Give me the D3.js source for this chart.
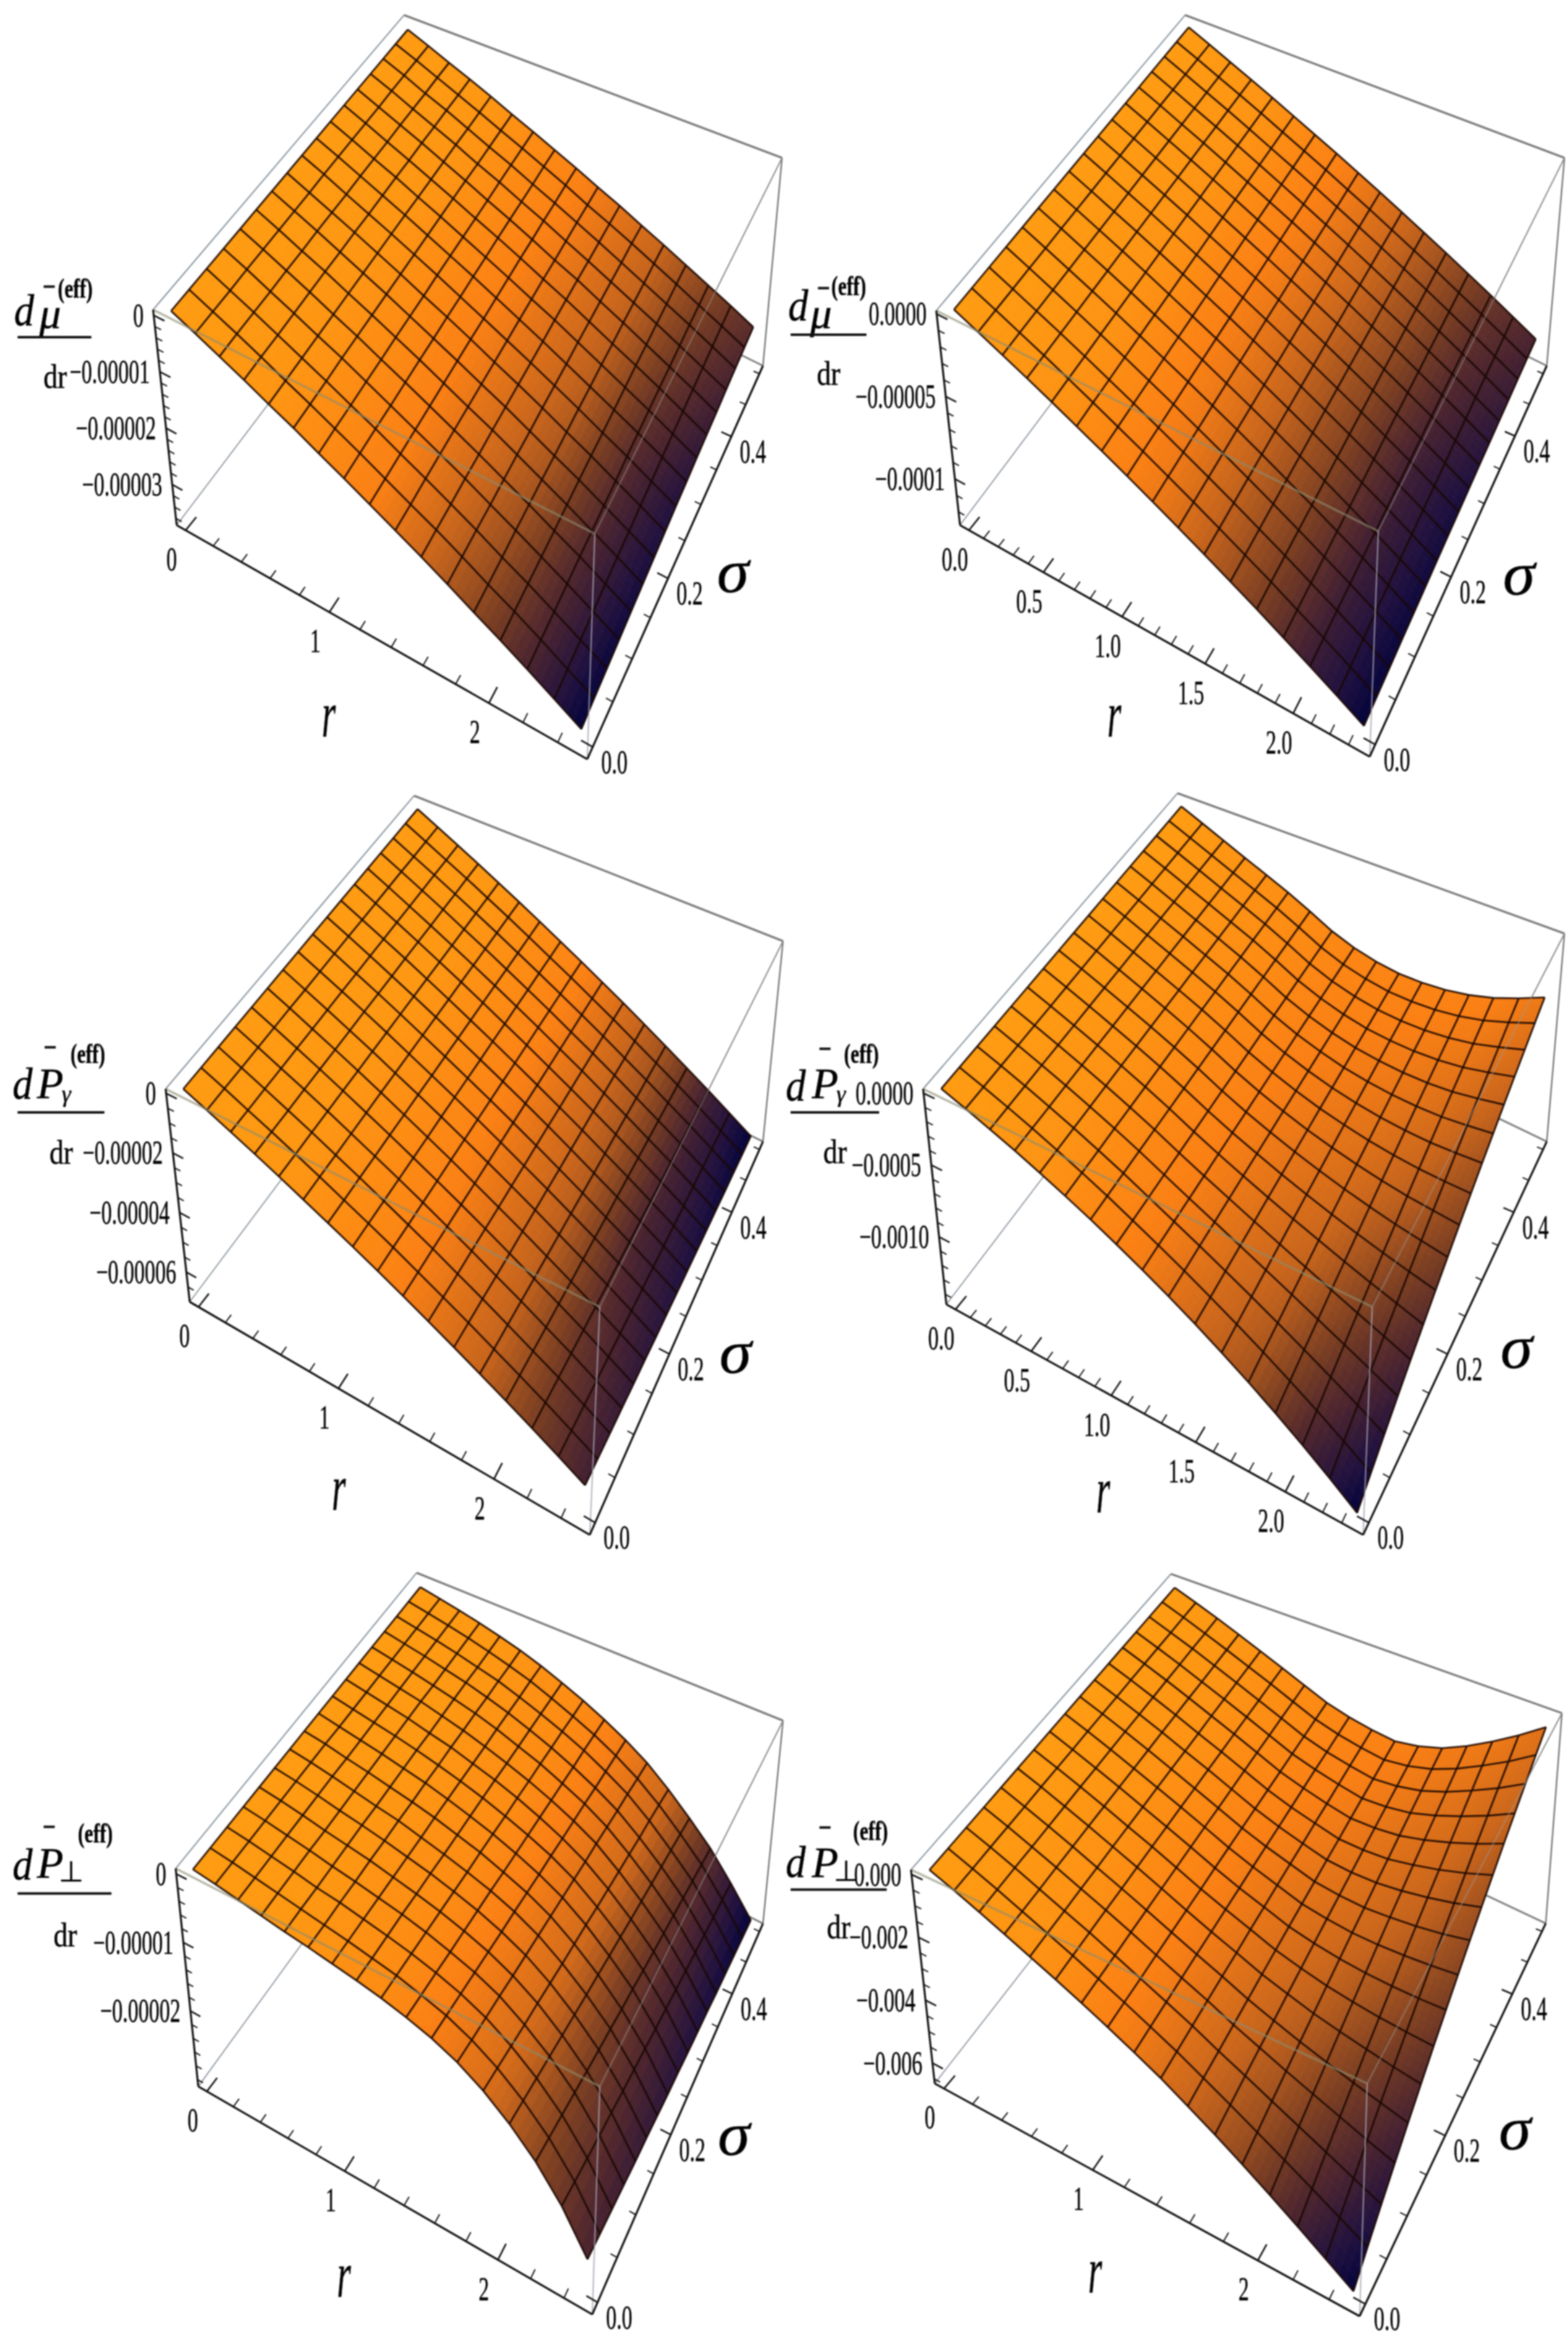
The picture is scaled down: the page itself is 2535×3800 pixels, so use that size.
<!DOCTYPE html>
<html><head><meta charset="utf-8"><title>Effective variable gradients</title>
<script src="https://cdn.jsdelivr.net/npm/d3@7/dist/d3.min.js"></script>
<style>html,body{margin:0;background:#fff}svg{display:block;filter:blur(1.1px)}text{font-family:"Liberation Serif",serif;fill:#000;stroke:#000;stroke-width:.5px}</style>
</head><body>
<script>
// Sampled surfaces: depth below zero (value = -cell * unit); rows = sigma nodes, columns = r nodes.
const muGridA=[
[0,19,39,59,80,100,122,143,165,187,209,232,256,279,303,328,353],
[0,19,38,58,79,99,120,141,163,185,206,229,253,275,299,324,348],
[0,19,38,58,78,98,119,139,161,182,204,226,250,272,296,320,344],
[0,18,38,57,77,96,117,138,159,180,201,224,246,269,292,316,340],
[0,18,37,56,76,95,116,136,157,178,199,221,243,266,288,312,336],
[0,18,37,55,75,94,114,134,155,176,196,218,240,262,285,308,332],
[0,18,36,55,74,93,113,133,153,174,194,216,238,259,282,305,328],
[0,18,36,54,73,92,112,131,151,172,192,213,235,256,279,301,324],
[0,17,36,54,72,91,110,130,150,170,190,211,232,254,275,298,320],
[0,17,35,53,71,90,109,128,148,168,188,209,230,251,272,294,317],
[0,17,35,52,71,89,108,127,146,166,185,206,227,248,269,291,313],
[0,17,35,52,70,88,107,125,144,164,183,204,225,245,266,288,310],
[0,17,34,51,69,87,106,124,143,163,181,202,222,243,264,285,307],
[0,16,34,51,68,87,104,123,141,161,180,200,220,240,261,282,303],
[0,16,34,50,68,86,103,122,140,159,178,198,218,238,258,279,300],
[0,16,33,50,67,85,102,120,138,158,176,195,215,235,256,276,297],
[0,16,33,49,66,84,101,119,137,156,174,194,213,233,253,273,294]];
const muGridB=[
[0,67,135,203,273,345,417,490,565,641,718,797,876,958,1040,1124,1210],
[0,66,134,201,271,342,414,486,561,636,713,791,869,951,1032,1116,1201],
[0,66,133,200,269,340,411,483,557,631,707,785,863,944,1025,1107,1192],
[0,65,132,199,267,337,408,479,553,627,702,779,857,937,1017,1099,1183],
[0,65,131,197,265,335,405,476,549,622,697,774,851,930,1010,1092,1175],
[0,64,130,196,263,333,402,472,545,618,692,769,845,924,1003,1084,1167],
[0,64,129,194,261,331,400,469,541,614,688,763,839,918,996,1077,1159],
[0,64,129,193,260,328,397,466,538,610,683,758,833,911,990,1070,1151],
[0,63,128,192,258,326,394,463,534,606,679,753,828,905,983,1063,1144],
[0,63,127,191,256,324,392,460,531,602,674,748,823,900,977,1056,1136],
[0,62,126,190,255,322,389,457,527,598,670,744,817,894,971,1049,1129],
[0,62,125,188,253,320,387,454,524,594,666,739,812,889,965,1043,1122],
[0,61,125,187,252,318,385,451,521,591,662,735,807,883,959,1037,1115],
[0,61,124,186,250,316,382,449,518,587,658,730,803,878,953,1030,1109],
[0,61,123,185,249,315,380,446,515,584,654,726,798,873,948,1025,1102],
[0,60,123,184,247,313,378,443,512,580,651,722,793,868,942,1019,1096],
[0,60,122,183,246,311,376,441,509,577,647,718,789,863,937,1013,1090]];
const prGridA=[
[0,33,67,101,136,172,208,244,281,319,358,397,437,477,518,560,603],
[0,33,68,102,137,173,210,246,283,322,361,400,441,481,522,565,608],
[0,34,68,103,138,175,211,248,286,324,364,403,444,485,526,569,613],
[0,34,69,103,139,176,213,250,288,327,366,407,447,489,530,574,617],
[0,34,69,104,140,177,214,252,290,329,369,410,451,492,534,578,622],
[0,34,70,105,141,178,216,254,292,332,372,412,454,496,538,582,626],
[0,35,70,106,142,180,217,255,294,334,374,415,457,499,542,586,631],
[0,35,70,106,143,181,219,257,296,336,377,418,460,502,545,590,635],
[0,35,71,107,144,182,220,259,298,338,379,421,463,506,549,594,639],
[0,35,71,108,145,183,222,261,300,340,381,423,466,509,552,597,643],
[0,36,72,108,146,184,223,262,302,343,384,426,469,512,556,601,647],
[0,36,72,109,147,185,224,264,304,345,386,428,471,515,559,605,651],
[0,36,73,110,148,186,225,265,305,347,388,431,474,518,562,608,654],
[0,36,73,110,149,187,227,267,307,349,390,433,477,521,565,611,658],
[0,37,73,111,149,188,228,268,309,350,392,436,479,524,568,615,661],
[0,37,74,111,150,189,229,270,310,352,394,438,482,526,571,618,665],
[0,37,74,112,151,190,230,271,312,354,396,440,484,529,574,621,668]];
const prGridB=[
[0,60,123,189,260,334,411,494,580,670,766,867,972,1083,1199,1321,1449],
[0,61,124,190,261,335,412,495,579,665,756,849,945,1046,1149,1257,1370],
[0,61,125,192,262,336,413,496,578,660,745,831,919,1009,1101,1195,1292],
[0,62,126,193,263,336,413,496,577,656,735,814,893,974,1054,1134,1217],
[0,62,127,194,264,337,414,497,576,651,726,798,869,939,1008,1075,1144],
[0,63,128,195,265,338,415,498,575,647,716,782,845,906,964,1018,1073],
[0,63,129,197,266,338,416,499,574,642,707,766,821,873,920,963,1004],
[0,64,130,198,267,339,416,499,573,638,698,751,799,841,879,909,937],
[0,64,131,199,268,340,417,500,572,634,690,736,776,810,837,856,872],
[0,65,132,200,269,340,418,501,571,630,681,721,755,780,797,805,808],
[0,65,133,201,270,341,418,501,570,626,673,708,734,751,759,755,746],
[0,66,134,202,271,341,419,502,569,622,665,694,713,722,721,706,686],
[0,66,135,203,272,342,420,503,568,619,657,680,693,695,684,658,626],
[0,67,136,204,273,342,420,503,567,615,650,667,674,667,648,612,569],
[0,67,136,205,273,343,421,504,567,612,642,655,655,641,613,567,514],
[0,68,137,206,274,343,421,504,566,608,635,642,636,615,578,523,458],
[0,68,138,207,275,344,422,505,565,605,628,630,618,590,545,480,405]];
const ppGridA=[
[0,5,11,17,23,28,34,40,47,56,67,82,103,130,163,205,259],
[0,5,11,17,23,29,35,42,49,59,70,86,107,134,167,209,262],
[0,5,11,17,24,29,36,43,51,61,73,89,111,138,171,213,265],
[0,5,11,17,24,30,37,44,53,64,76,92,115,142,175,217,268],
[0,5,11,18,24,30,38,46,55,66,79,96,118,146,179,220,271],
[0,5,11,18,24,31,39,47,57,68,82,99,122,150,183,224,273],
[0,5,11,18,25,31,40,49,59,70,84,102,126,154,186,227,276],
[0,5,12,18,25,32,40,50,60,73,87,105,129,157,190,230,279],
[0,6,12,18,25,32,41,51,62,75,90,108,132,161,193,234,281],
[0,6,12,18,25,33,42,52,64,77,92,111,136,164,197,237,284],
[0,6,12,18,26,33,43,53,65,79,95,114,139,168,200,240,286],
[0,6,12,18,26,34,44,55,67,81,97,116,142,171,203,243,288],
[0,6,12,19,26,34,44,56,68,83,99,119,145,174,206,246,291],
[0,6,12,19,26,35,45,57,70,85,102,122,148,177,209,249,293],
[0,6,12,19,27,35,46,58,71,86,104,124,150,180,212,252,295],
[0,6,12,19,27,36,46,59,73,88,106,127,153,183,215,254,297],
[0,6,12,19,27,36,47,60,74,90,108,129,156,186,218,257,299]];
const ppGridB=[
[0,30,62,95,129,162,197,233,271,310,354,399,446,495,545,596,647],
[0,30,61,94,127,160,195,230,267,304,345,386,428,470,513,556,599],
[0,29,60,93,126,158,193,228,263,298,337,373,410,446,482,518,553],
[0,29,60,91,124,156,190,225,259,292,329,361,393,423,452,481,508],
[0,29,59,90,123,155,188,222,255,287,321,349,376,400,423,444,464],
[0,28,58,89,121,153,186,220,252,282,313,337,360,378,394,409,421],
[0,28,57,88,120,151,184,218,248,276,305,326,344,357,367,374,379],
[0,28,57,87,119,150,182,215,245,271,298,315,328,336,340,341,339],
[0,27,56,86,117,148,180,213,241,266,291,304,313,315,313,308,300],
[0,27,55,85,116,147,179,211,238,261,284,294,299,295,288,277,261],
[0,27,55,84,115,145,177,209,235,257,277,284,284,276,263,246,224],
[0,26,54,83,114,144,175,207,232,252,271,274,271,257,239,216,188],
[0,26,53,82,112,142,173,205,228,248,264,264,257,239,215,186,152],
[0,26,53,82,111,141,172,203,225,243,258,255,244,221,192,158,118],
[0,26,52,81,110,140,170,201,223,239,252,246,231,204,169,130,84],
[0,25,52,80,109,138,169,199,220,235,246,237,218,187,147,103,51],
[0,25,51,79,108,137,167,197,217,231,240,228,206,170,126,76,19]];

// Axis ticks and labels
const rTicksWhole=[0,1,2], rTicksHalf=[0,0.5,1,1.5,2];
const sigmaTicks=[0,0.2,0.4];
const muZTicksA=[0,-0.00001,-0.00002,-0.00003], muZTicksB=[0,-0.00005,-0.0001];
const prZTicksA=[0,-0.00002,-0.00004,-0.00006], prZTicksB=[0,-0.0005,-0.001];
const ppZTicksA=[0,-0.00001,-0.00002], ppZTicksB=[0,-0.002,-0.004,-0.006];
const muZLabelsB=["0.0000","\u22120.00005","\u22120.0001"];
const prZLabelsB=["0.0000","\u22120.0005","\u22120.0010"];
const ppZLabelsB=["0.000","\u22120.002","\u22120.004","\u22120.006"];
const muZLabelsA=["0","\u22120.00001","\u22120.00002","\u22120.00003"];
const prZLabelsA=["0","\u22120.00002","\u22120.00004","\u22120.00006"];
const ppZLabelsA=["0","\u22120.00001","\u22120.00002"];
const rLabelsWhole=["0","1","2"], rLabelsHalf=["0.0","0.5","1.0","1.5","2.0"];
const sigmaLabels=["0.0","0.2","0.4"];

// Lighting along r for sigma = 0, mid, max (style only)
const shadeBreaks=[0,.25,.5,.75,.875,1];
const rampStops=[0,.25,.45,.65,.8,.92,1];
const rampColors=["#ff9c12","#fb8014","#c8651c","#7c3f22","#4a2430","#22123f","#04043c"];
const ramp=d3.scaleLinear(rampStops,rampColors).clamp(true);

const k1=[1270/1565,1270/1568], k2=[1265/1547,1270/1568], k3=[1265/1547,1260/1568];
const panels=[
{grid:muGridA,unit:1e-7,rMax:2.5,rTicks:rTicksWhole,rLabels:rLabelsWhole,rMinor:.2,zTicks:muZTicksA,zLabels:muZLabelsA,zMinor:2e-6,zDomain:[1e-6,-3.72e-5],
 origin:[0,0],k:k1,A:[305,618],B:[1185,1065],C:[1558,315],D:[805,30],a:[352,1048],b:[1170,1515],c:[1520,730],d:[845,395],
 shade:[[0,.06,.25,.6,.8,1],[0,.06,.25,.5,.75,.92],[0,.05,.22,.45,.62,.75]],
 kind:"mu",dAt:[48,620],sym:[100,625],bar:[98,572],eff:[150,575],rule:[35,182,673],dr:[110,752],rAt:[655,1425],sAt:[1460,1140]},
{grid:muGridB,unit:1e-7,rMax:2.35,rTicks:rTicksHalf,rLabels:rLabelsHalf,rMinor:.1,zTicks:muZTicksB,zLabels:muZLabelsB,zMinor:1e-5,zDomain:[2e-6,-1.28e-4],
 origin:[1270,0],k:k2,A:[298,620],B:[1172,1060],C:[1540,315],D:[790,30],a:[345,1048],b:[1155,1510],c:[1505,730],d:[830,395],
 shade:[[0,.08,.3,.65,.85,1],[0,.08,.32,.62,.82,.95],[0,.08,.28,.55,.7,.8]],
 kind:"mu",dAt:[25,610],sym:[70,625],bar:[75,575],eff:[125,570],rule:[10,160,668],dr:[85,745],rAt:[650,1425],sAt:[1450,1145]},
{grid:prGridA,unit:1e-7,rMax:2.5,rTicks:rTicksWhole,rLabels:rLabelsWhole,rMinor:.2,zTicks:prZTicksA,zLabels:prZLabelsA,zMinor:5e-6,zDomain:[1.5e-6,-7e-5],
 origin:[0,1270],k:k1,A:[330,605],B:[1195,1040],C:[1560,310],D:[825,20],a:[378,1030],b:[1175,1495],c:[1520,710],d:[860,385],
 shade:[[0,.05,.2,.45,.65,.82],[0,.05,.22,.5,.78,.92],[0,.05,.22,.55,.82,1]],
 kind:"pr",dAt:[45,595],sym:[100,595],bar:[100,522],eff:[175,535],rule:[35,208,652],dr:[122,732],rAt:[675,1400],sAt:[1465,1130]},
{grid:prGridB,unit:1e-6,rMax:2.35,rTicks:rTicksHalf,rLabels:rLabelsHalf,rMinor:.1,zTicks:prZTicksB,zLabels:prZLabelsB,zMinor:1e-4,zDomain:[3e-5,-1.47e-3],
 origin:[1270,1270],k:k2,A:[272,605],B:[1160,1040],C:[1540,295],D:[775,15],a:[318,1035],b:[1142,1495],c:[1505,710],d:[815,375],
 shade:[[0,.08,.28,.55,.8,1],[0,.1,.25,.38,.48,.62],[0,.1,.2,.22,.24,.3]],
 kind:"pr",dAt:[20,598],sym:[78,595],bar:[78,525],eff:[150,535],rule:[10,185,652],dr:[98,730],rAt:[628,1405],sAt:[1445,1120]},
{grid:ppGridA,unit:1e-7,rMax:2.5,rTicks:rTicksWhole,rLabels:rLabelsWhole,rMinor:.2,zTicks:ppZTicksA,zLabels:ppZLabelsA,zMinor:2e-6,zDomain:[8e-7,-3.1e-5],
 origin:[0,2530],k:k1,A:[350,605],B:[1195,1040],C:[1560,310],D:[830,15],a:[395,1040],b:[1180,1495],c:[1520,715],d:[870,385],
 shade:[[0,.04,.15,.38,.6,.8],[0,.04,.15,.4,.7,.9],[0,.04,.15,.42,.75,1]],
 kind:"pp",dAt:[45,597],sym:[100,595],bar:[98,522],eff:[190,535],rule:[35,222,655],dr:[130,738],rAt:[685,1415],sAt:[1462,1135]},
{grid:ppGridB,unit:1e-5,rMax:2.5,rTicks:rTicksWhole,rLabels:rLabelsWhole,rMinor:.2,zTicks:ppZTicksB,zLabels:ppZLabelsB,zMinor:5e-4,zDomain:[1.5e-4,-6.65e-3],
 origin:[1270,2540],k:k3,A:[248,600],B:[1150,1030],C:[1535,285],D:[762,5],a:[295,1030],b:[1135,1498],c:[1503,708],d:[800,370],
 shade:[[0,.08,.3,.6,.82,1],[0,.1,.28,.42,.5,.62],[0,.08,.2,.28,.3,.35]],
 kind:"pp",dAt:[20,585],sym:[78,585],bar:[78,515],eff:[168,522],rule:[10,200,640],dr:[105,715],rAt:[612,1405],sAt:[1442,1120]}
];

const SIGMA_MAX=.5, PAD=.025, Q_R=1.15, Q_S=.8, MESH=16, SUB=4;
const warpR=u=>u/(u+Q_R*(1-u)), warpS=v=>v/(v+Q_S*(1-v));
const lerp=(a,b,t)=>[a[0]+(b[0]-a[0])*t,a[1]+(b[1]-a[1])*t];
const line=d3.line();

const svg=d3.select("body").append("svg").attr("width",2535).attr("height",3800).attr("viewBox","0 0 2535 3800");

function label(g,x,y,str,o={}){
  return g.append("text").attr("transform",`translate(${x},${y}) scale(${o.sx||1},1)`)
    .attr("text-anchor",o.anchor||"middle").attr("dominant-baseline","central")
    .attr("font-size",o.size||54).attr("font-style",o.italic?"italic":null)
    .attr("font-weight",o.bold?"bold":null).text(str);
}

panels.forEach(p=>{
  const g=svg.append("g");
  const page=q=>[p.origin[0]+p.k[0]*q[0],p.origin[1]+p.k[1]*q[1]];
  const rS=d3.scaleLinear([0,p.rMax],[PAD,1-PAD]);
  const sS=d3.scaleLinear([0,SIGMA_MAX],[PAD,1-PAD]);
  const zS=d3.scaleLinear(p.zDomain,[0,1]);
  // the vertical span of the box is kept equal at its far edge, as the flat-looking surfaces need
  const dS=[p.d[0],p.D[1]+p.c[1]-p.C[1]];
  const proj=(u,v,f)=>{
    const U=warpR(u),V=warpS(v);
    const top=lerp(lerp(p.A,p.B,U),lerp(p.D,p.C,U),V);
    const bot=lerp(lerp(p.a,p.b,U),lerp(dS,p.c,U),V);
    return page(lerp(top,bot,f));
  };
  const seg=(q1,q2,stroke,w,op)=>g.append("path").attr("d",line([page(q1),page(q2)]))
     .attr("stroke",stroke).attr("stroke-width",w).attr("fill","none").attr("stroke-opacity",op||1);

  // back of the box
  seg(p.a,p.d,"#8a929a",1.8); seg(p.c,p.d,"#808080",3);
  seg(p.A,p.D,"#84909a",2); seg(p.D,p.C,"#7c7c7c",3.4);
  seg(p.C,p.c,"#777",2.4); seg(p.C,p.B,"#777",1.8);

  // surface
  const rNodes=d3.range(MESH+1).map(i=>i/MESH*p.rMax);
  const sNodes=d3.range(MESH+1).map(j=>j/MESH*SIGMA_MAX);
  const nodes=p.grid.map((row,j)=>row.map((cell,i)=>proj(rS(rNodes[i]),sS(sNodes[j]),zS(-cell*p.unit))));
  const shadeAt=(t,s)=>{
    const rows=p.shade.map(row=>d3.scaleLinear(shadeBreaks,row)(t));
    return d3.scaleLinear([0,.5,1],rows)(s);
  };
  const quads=[];
  for(let j=0;j<MESH;j++)for(let i=0;i<MESH;i++)for(let a=0;a<SUB;a++)for(let b=0;b<SUB;b++){
    const at=(x,y)=>lerp(lerp(nodes[j][i],nodes[j][i+1],x),lerp(nodes[j+1][i],nodes[j+1][i+1],x),y);
    quads.push({pts:[at(a/SUB,b/SUB),at((a+1)/SUB,b/SUB),at((a+1)/SUB,(b+1)/SUB),at(a/SUB,(b+1)/SUB)],
      col:ramp(shadeAt((i+(a+.5)/SUB)/MESH,(j+(b+.5)/SUB)/MESH))});
  }
  g.append("g").selectAll("path").data(quads).join("path")
    .attr("d",d=>line(d.pts)+"Z").attr("fill",d=>d.col).attr("stroke",d=>d.col).attr("stroke-width",.9);

  // mesh
  const mesh=g.append("g").attr("fill","none").attr("stroke","#1a0802").attr("stroke-width",2.9).attr("stroke-opacity",.9);
  nodes.forEach(row=>mesh.append("path").attr("d",line(row)));
  d3.range(MESH+1).forEach(i=>mesh.append("path").attr("d",line(nodes.map(r=>r[i]))));

  // front edges of the box over the surface
  seg(p.A,p.B,"#8c8c70",3.6,.62); seg(p.B,p.C,"#9a9a9a",2,.55); seg(p.B,p.b,"#a5a5b5",2.2,.8);

  // axes
  const ax=g.append("g").attr("stroke","#111").attr("fill","none");
  const axis=(q1,q2)=>ax.append("path").attr("d",line([page(q1),page(q2)])).attr("stroke-width",3.2);
  axis(p.A,p.a); axis(p.a,p.b); axis(p.b,p.c);
  const tick=(q1,q2,w)=>ax.append("path").attr("d",line([q1,q2])).attr("stroke-width",w);
  const close=(a,b)=>Math.abs(a-b)<1e-9;

  const rAll=d3.range(0,p.rMax+1e-9,p.rMinor);
  rAll.forEach(r=>{const major=p.rTicks.some(t=>close(t,r));
    tick(proj(rS(r),0,1),proj(rS(r),major?.035:.02,1),major?2.6:2);});
  d3.range(0,SIGMA_MAX+1e-9,.05).forEach(s=>{const major=sigmaTicks.some(t=>close(t,s));
    tick(proj(1,sS(s),1),proj(major?.975:.985,sS(s),1),major?2.6:2);});
  const zEnd=p.zDomain[1];
  const zAll=d3.range(0,Math.floor(-zEnd/p.zMinor+1e-6)+1).map(n=>-n*p.zMinor);
  zAll.forEach(z=>{const major=p.zTicks.some(t=>Math.abs(t-z)<p.zMinor/10);
    tick(proj(0,0,zS(z)),proj(major?.028:.016,0,zS(z)),major?2.6:2);});

  // tick labels
  const off=(q,dx,dy)=>[q[0]+dx*p.k[0],q[1]+dy*p.k[1]];
  p.rTicks.forEach((r,i)=>{const q=off(proj(rS(r),0,1),-28,58);label(g,q[0],q[1],p.rLabels[i],{sx:.63});});
  sigmaTicks.forEach((s,i)=>{const q=off(proj(1,sS(s),1),43,30);label(g,q[0],q[1],sigmaLabels[i],{sx:.63});});
  p.zTicks.forEach((z,i)=>{const q=off(proj(0,0,zS(z)),-20,0);label(g,q[0],q[1],p.zLabels[i],{sx:.63,anchor:"end"});});

  // axis titles
  const rt=page(p.rAt), st=page(p.sAt);
  label(g,rt[0],rt[1],"r",{size:105,italic:true,sx:.55});
  label(g,st[0],st[1],"\u03c3",{size:100,italic:true,sx:1.05});

  // fraction label
  const dp=page(p.dAt),sp=page(p.sym),bp=page(p.bar),ep=page(p.eff),dr=page(p.dr);
  label(g,dp[0],dp[1],"d",{size:72,italic:true,sx:.9});
  label(g,sp[0],sp[1],p.kind==="mu"?"\u03bc":"P",{size:70,italic:true});
  g.append("path").attr("d",line([[bp[0]-9,bp[1]],[bp[0]+9,bp[1]]])).attr("stroke","#111").attr("stroke-width",4);
  label(g,ep[0],ep[1],"(eff)",{size:44,sx:.72,bold:true});
  if(p.kind==="pr")label(g,sp[0]+26,sp[1]+16,"\u03b3",{size:38,italic:true});
  if(p.kind==="pp")label(g,sp[0]+34,sp[1]+14,"\u22a5",{size:46});
  g.append("path").attr("d",line([page([p.rule[0],p.rule[2]]),page([p.rule[1],p.rule[2]])])).attr("stroke","#111").attr("stroke-width",4);
  label(g,dr[0],dr[1],"dr",{size:54,sx:.85});
});
</script>
</body></html>
